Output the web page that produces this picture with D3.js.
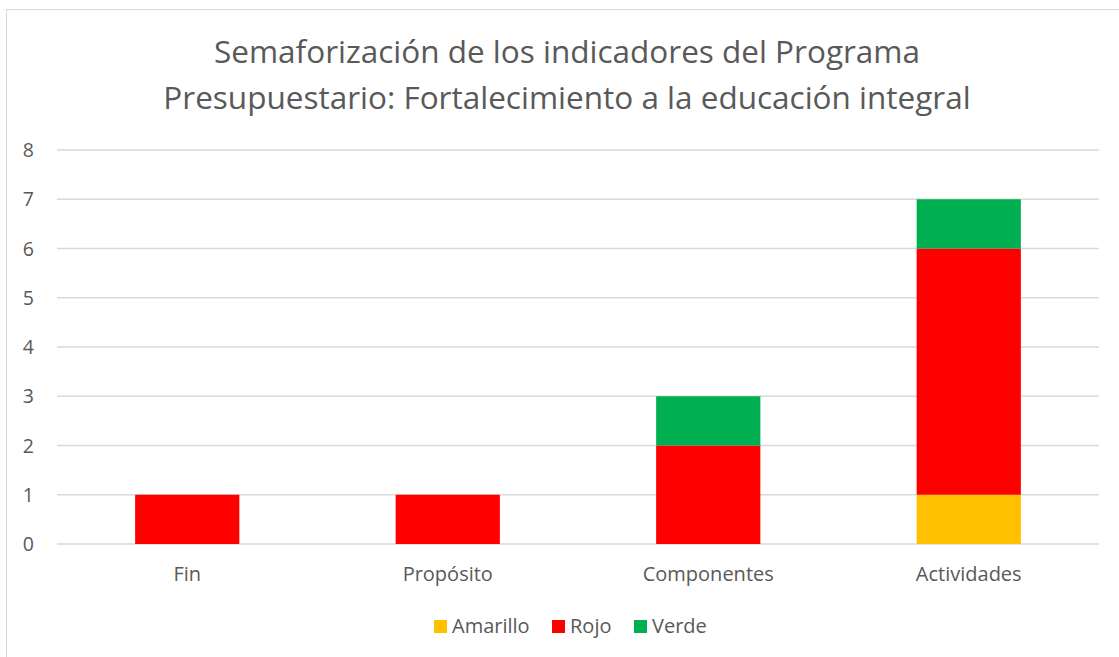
<!DOCTYPE html>
<html>
<head>
<meta charset="utf-8">
<script src="https://cdn.jsdelivr.net/npm/d3@7"></script>
<style>
  body { margin: 0; background: #fff; }
  text { font-family: "Open Sans", sans-serif; fill: #595959; }
</style>
</head>
<body>
<div id="vis1"></div>
<script>
// data
let categories = ['Fin', 'Propósito', 'Componentes', 'Actividades']
let seriesNames = ['Amarillo', 'Rojo', 'Verde']
let amarillo = [0, 0, 0, 1]
let rojo = [1, 1, 2, 5]
let verde = [0, 0, 1, 1]
let yTicks = [0, 1, 2, 3, 4, 5, 6, 7, 8]
let colors = ['#FFC000', '#FF0000', '#00B050']
let titleLines = ['Semaforización de los indicadores del Programa',
  'Presupuestario: Fortalecimiento a la educación integral']

let W = 1119, H = 657

let svg = d3.select('#vis1')
  .append('svg')
  .attr('width', W)
  .attr('height', H)

// chart frame
svg.append('rect')
  .attr('x', 6.5)
  .attr('y', 9.5)
  .attr('width', W + 10)
  .attr('height', H + 10)
  .attr('fill', 'none')
  .attr('stroke', '#d9d9d9')

svg.append('g').selectAll('text')
  .data(titleLines)
  .join('text')
  .attr('x', 567)
  .attr('y', (d, i) => 63 + i * 46)
  .attr('text-anchor', 'middle')
  .style('font-size', '31.5px')
  .text(d => d)

let x = d3.scaleBand()
  .domain(categories)
  .range([57, 1099])
  .paddingInner(0.6)
  .paddingOuter(0.3)

let y = d3.scaleLinear()
  .domain([0, 8])
  .range([544, 150])

// gridlines
svg.append('g').selectAll('line')
  .data(yTicks)
  .join('line')
  .attr('x1', 57)
  .attr('x2', 1099)
  .attr('y1', d => y(d))
  .attr('y2', d => y(d))
  .attr('stroke', '#d9d9d9')
  .attr('stroke-width', 1.5)

// y labels
svg.append('g').selectAll('text')
  .data(yTicks)
  .join('text')
  .attr('x', 34)
  .attr('y', d => y(d) + 7)
  .attr('text-anchor', 'end')
  .style('font-size', '19.5px')
  .text(d => d)

// stacked bars
let table = categories.map((c, i) => ({ cat: c, Amarillo: amarillo[i], Rojo: rojo[i], Verde: verde[i] }))
let stacked = d3.stack().keys(seriesNames)(table)

svg.append('g').selectAll('g')
  .data(stacked)
  .join('g')
  .attr('fill', (d, i) => colors[i])
  .selectAll('rect')
  .data(d => d.filter(s => s[1] > s[0]))
  .join('rect')
  .attr('x', d => x(d.data.cat))
  .attr('width', x.bandwidth())
  .attr('y', d => y(d[1]))
  .attr('height', d => y(d[0]) - y(d[1]))

// category labels
svg.append('g').selectAll('text')
  .data(categories)
  .join('text')
  .attr('x', d => x(d) + x.bandwidth() / 2)
  .attr('y', 581)
  .attr('text-anchor', 'middle')
  .style('font-size', '20px')
  .text(d => d)

// legend
let legendX = [434, 552, 634]
let legend = svg.append('g').selectAll('g')
  .data(seriesNames)
  .join('g')
  .attr('transform', (d, i) => `translate(${legendX[i]},620)`)

legend.append('rect')
  .attr('width', 13)
  .attr('height', 13)
  .attr('fill', (d, i) => colors[i])

legend.append('text')
  .attr('x', 18)
  .attr('y', 13)
  .style('font-size', '20px')
  .text(d => d)
</script>
</body>
</html>
